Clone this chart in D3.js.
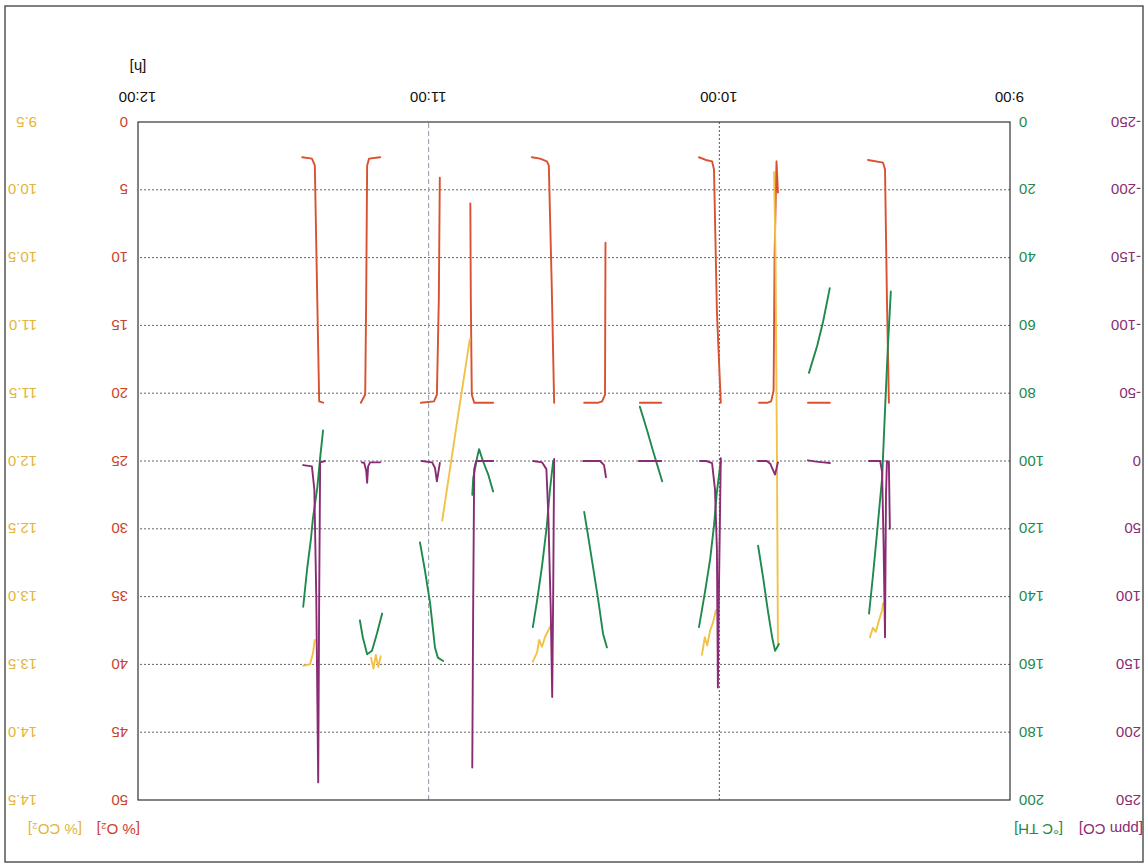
<!DOCTYPE html>
<html>
<head>
<meta charset="utf-8">
<script src="https://cdn.jsdelivr.net/npm/d3@7"></script>
<style>
  html, body { margin: 0; padding: 0; background: #fff; }
  svg { display: block; }
  text { font-family: "Liberation Sans", Arial, sans-serif; }
</style>
</head>
<body>
<svg id="chart" width="1148" height="868"></svg>
<script>
// ---- tick labels / axis values ----
const timeTickValues = [0, 60, 120, 180];            // minutes after 9:00
const timeTickLabels = ["9:00", "10:00", "11:00", "12:00"];
const o2Ticks  = [0, 5, 10, 15, 20, 25, 30, 35, 40, 45, 50];
const thTicks  = [0, 20, 40, 60, 80, 100, 120, 140, 160, 180, 200];
const coTicks  = [-250, -200, -150, -100, -50, 0, 50, 100, 150, 200, 250];
const co2Ticks = [9.5, 10.0, 10.5, 11.0, 11.5, 12.0, 12.5, 13.0, 13.5, 14.0, 14.5];

// ---- series: [minutes after 9:00, value], one array per recorded segment ----
// O2 [%]
const o2Seg1  = [[25.0,20.7],[25.4,13.1],[25.8,3.5],[26.2,3.0],[29.3,2.8]];
const o2Seg2  = [[37.2,20.7],[41.7,20.7]];
const o2Seg3  = [[47.9,5.2],[48.2,2.9],[48.6,10],[48.8,19.8],[49.3,20.6],[50.0,20.7],[51.8,20.7]];
const o2Seg4  = [[59.7,20.7],[60.5,14],[61.1,3.5],[61.5,2.9],[62.8,2.8],[64.2,2.6]];
const o2Seg5  = [[72.0,20.7],[76.4,20.7]];
const o2Seg6  = [[83.5,8.9],[83.6,20.1],[84.2,20.6],[85.0,20.7],[87.9,20.7]];
const o2Seg7  = [[94.1,20.7],[94.6,12],[95.2,3.2],[95.6,2.9],[97.0,2.7],[98.7,2.6]];
const o2Seg8  = [[106.7,20.7],[110.6,20.7],[111.1,20.1],[111.3,13],[111.4,6.0]];
const o2Seg9  = [[117.7,4.1],[117.9,13],[118.3,20.1],[118.9,20.6],[121.6,20.7]];
const o2Seg10 = [[130.0,2.6],[132.3,2.7],[132.7,3.2],[132.9,13],[133.1,20.1],[134.0,20.7]];
const o2Seg11 = [[141.8,20.7],[142.6,20.6],[143.0,13],[143.5,3.2],[144.1,2.7],[146.1,2.6]];

// CO [ppm]
const coSeg1  = [[24.8,50],[25.0,1],[25.4,0],[25.6,25],[25.8,130],[26.1,60],[26.4,8],[26.8,0],[29.1,0]];
const coSeg2  = [[37.2,1.5],[38.5,1],[40.0,0.5],[41.7,-0.5]];
const coSeg3  = [[47.9,1],[48.5,10],[49.5,2],[50.2,0],[52.0,0]];
const coSeg4  = [[59.7,-2],[60.1,100],[60.3,167],[60.5,65],[60.9,21],[61.5,1.5],[62.7,0],[64.0,0]];
const coSeg5  = [[72.0,0],[76.6,0]];
const coSeg6  = [[83.4,12],[83.8,3],[84.6,0],[88.1,0]];
const coSeg7  = [[94.1,-1.5],[94.3,100],[94.5,174],[94.8,110],[95.3,40],[95.7,6],[96.6,1],[98.4,0]];
const coSeg8  = [[106.7,0],[110.2,0],[110.6,6],[110.8,100],[111.0,226]];
const coSeg9  = [[117.7,1.5],[118.3,15],[118.7,5],[119.3,1],[121.4,0]];
const coSeg10 = [[130.0,1],[132.1,1],[132.5,4],[132.7,16],[132.9,7],[133.3,1.5],[133.8,1]];
const coSeg11 = [[141.4,0],[142.4,1],[142.6,100],[142.8,237],[143.2,100],[143.6,21],[144.1,4],[145.9,3]];

// TH [°C]
const thSeg1  = [[24.6,50],[25.2,66],[25.8,85],[26.4,105],[27.5,122],[28.3,134],[29.1,145]];
const thSeg2  = [[37.2,49],[38.6,59],[39.8,66],[41.5,74]];
const thSeg3  = [[47.7,154],[48.1,155],[48.5,156],[49.1,152],[50.0,144],[51.0,134],[52.0,125]];
const thSeg4  = [[59.7,100],[60.5,109],[61.1,119],[61.9,129],[63.0,139],[64.2,149]];
const thSeg5  = [[71.8,106],[73.7,97],[74.9,91],[76.4,84]];
const thSeg6  = [[83.2,155],[84.0,151],[85.0,141],[86.1,131],[87.1,122],[87.9,115]];
const thSeg7  = [[94.3,100],[95.0,109],[95.6,119],[96.6,131],[97.6,141],[98.5,149]];
const thSeg8  = [[106.7,109],[107.7,104],[108.8,100],[109.6,96.5],[110.0,99],[110.8,105],[111.0,110]];
const thSeg9  = [[117.0,159],[118.1,158],[118.7,155],[119.7,142],[120.8,132],[121.8,124]];
const thSeg10 = [[129.6,145],[130.7,151],[131.7,156],[132.7,157],[133.6,152],[134.2,147]];
const thSeg11 = [[141.8,91],[142.4,99],[143.0,108],[143.9,117],[144.3,123],[145.1,132],[145.9,143]];

// CO2 [%]
const co2Seg1 = [[26.2,13.05],[26.4,13.1],[27.0,13.17],[27.7,13.26],[28.3,13.23],[28.9,13.3]];
const co2Seg2 = [[47.9,13.35],[48.1,12.0],[48.4,10.5],[48.7,9.87]];
const co2Seg3 = [[60.7,13.1],[61.3,13.19],[61.9,13.25],[62.5,13.36],[63.0,13.3],[63.6,13.43]];
const co2Seg4 = [[94.9,13.22],[95.6,13.27],[96.0,13.3],[96.6,13.37],[97.2,13.32],[97.6,13.41],[98.5,13.48]];
const co2Seg5 = [[111.5,11.1],[114.3,11.75],[117.2,12.44]];
const co2Seg6 = [[129.9,13.44],[130.4,13.52],[130.9,13.43],[131.4,13.53],[131.9,13.45]];
const co2Seg7 = [[143.5,13.32],[143.9,13.42],[144.5,13.5],[145.9,13.51]];

const o2Segments  = [o2Seg1,o2Seg2,o2Seg3,o2Seg4,o2Seg5,o2Seg6,o2Seg7,o2Seg8,o2Seg9,o2Seg10,o2Seg11];
const coSegments  = [coSeg1,coSeg2,coSeg3,coSeg4,coSeg5,coSeg6,coSeg7,coSeg8,coSeg9,coSeg10,coSeg11];
const thSegments  = [thSeg1,thSeg2,thSeg3,thSeg4,thSeg5,thSeg6,thSeg7,thSeg8,thSeg9,thSeg10,thSeg11];
const co2Segments = [co2Seg1,co2Seg2,co2Seg3,co2Seg4,co2Seg5,co2Seg6,co2Seg7];

// ---- layout ----
const W = 1148, H = 868;
const pL = 138, pR = 1010, pT = 68, pB = 746;
const fs = 15;

const colRed = "#d9512f", colRedTxt = "#c9432b";
const colGreen = "#1e8a4c";
const colPurple = "#8a2c74";
const colYellow = "#f2c148", colYellowTxt = "#e3b53a";

const svg = d3.select("#chart");
// the whole sheet is shown upside down
const g = svg.append("g").attr("transform", `rotate(180 ${W/2} ${H/2})`);

g.append("rect").attr("x", 5).attr("y", 6).attr("width", 1138).attr("height", 856)
  .attr("fill", "none").attr("stroke", "#555").attr("stroke-width", 1.5);

const x = d3.scaleLinear().domain([0, 180]).range([pL, pR]);
const yO2 = d3.scaleLinear().domain([0, 50]).range([pB, pT]);
const yTH = d3.scaleLinear().domain([0, 200]).range([pB, pT]);
const yCO = d3.scaleLinear().domain([-250, 250]).range([pB, pT]);
const yCO2 = d3.scaleLinear().domain([9.5, 14.5]).range([pB, pT]);

// grid
g.append("g").selectAll("line").data(o2Ticks.slice(1, -1)).join("line")
  .attr("x1", pL).attr("x2", pR)
  .attr("y1", d => yO2(d)).attr("y2", d => yO2(d))
  .attr("stroke", "#666").attr("stroke-width", 1).attr("stroke-dasharray", "2,2");
g.append("line").attr("x1", x(60)).attr("x2", x(60)).attr("y1", pT).attr("y2", pB)
  .attr("stroke", "#555").attr("stroke-width", 1).attr("stroke-dasharray", "2,2");
g.append("line").attr("x1", x(120)).attr("x2", x(120)).attr("y1", pT).attr("y2", pB)
  .attr("stroke", "#8a9aa6").attr("stroke-width", 1).attr("stroke-dasharray", "5,3");

// series
function drawSeries(segs, yScale, color) {
  const line = d3.line().x(d => x(d[0])).y(d => yScale(d[1]));
  g.append("g").selectAll("path").data(segs).join("path")
    .attr("d", line).attr("fill", "none").attr("stroke", color)
    .attr("stroke-width", 1.9).attr("stroke-linejoin", "round").attr("stroke-linecap", "round");
}
drawSeries(o2Segments, yO2, colRed);
drawSeries(co2Segments, yCO2, colYellow);
drawSeries(thSegments, yTH, colGreen);
drawSeries(coSegments, yCO, colPurple);

// frame
g.append("rect").attr("x", pL).attr("y", pT).attr("width", pR - pL).attr("height", pB - pT)
  .attr("fill", "none").attr("stroke", "#333").attr("stroke-width", 1.2);

// axes
function styleAxis(sel, color) {
  sel.select(".domain").remove();
  sel.selectAll("line").remove();
  sel.selectAll("text").attr("fill", color).attr("font-size", fs);
}
const plain = d => String(d);
g.append("g").attr("transform", `translate(0,${pB})`)
  .call(d3.axisBottom(x).tickValues(timeTickValues).tickSize(0).tickPadding(19)
    .tickFormat((d, i) => timeTickLabels[i]))
  .call(s => styleAxis(s, "#111"));
g.append("g").attr("transform", `translate(${pL},0)`)
  .call(d3.axisLeft(yTH).tickValues(thTicks).tickSize(0).tickPadding(9).tickFormat(plain))
  .call(s => styleAxis(s, colGreen));
g.append("g").attr("transform", `translate(7,0)`)
  .call(d3.axisRight(yCO).tickValues(coTicks).tickSize(0).tickPadding(0).tickFormat(plain))
  .call(s => styleAxis(s, colPurple));
g.append("g").attr("transform", `translate(${pR},0)`)
  .call(d3.axisRight(yO2).tickValues(o2Ticks).tickSize(0).tickPadding(10).tickFormat(plain))
  .call(s => styleAxis(s, colRedTxt));
g.append("g").attr("transform", `translate(1111,0)`)
  .call(d3.axisRight(yCO2).tickValues(co2Ticks).tickSize(0).tickPadding(0).tickFormat(d3.format(".1f")))
  .call(s => styleAxis(s, colYellowTxt));
g.selectAll(".tick text").attr("font-family", "'Liberation Sans', Arial, sans-serif");

// unit labels
const units = [
  {t: "[h]", x: pR, y: 806, a: "middle", c: "#111"},
  {t: "[ppm CO]", x: 5, y: 44, a: "start", c: colPurple},
  {t: "[°C TH]", x: 134, y: 44, a: "end", c: colGreen},
  {t: "[% O₂]", x: 1008, y: 44, a: "start", c: colRedTxt},
  {t: "[% CO₂]", x: 1066, y: 44, a: "start", c: colYellowTxt}
];
g.append("g").selectAll("text").data(units).join("text")
  .attr("x", d => d.x).attr("y", d => d.y).attr("text-anchor", d => d.a)
  .attr("fill", d => d.c).attr("font-size", fs).text(d => d.t);
</script>
</body>
</html>
